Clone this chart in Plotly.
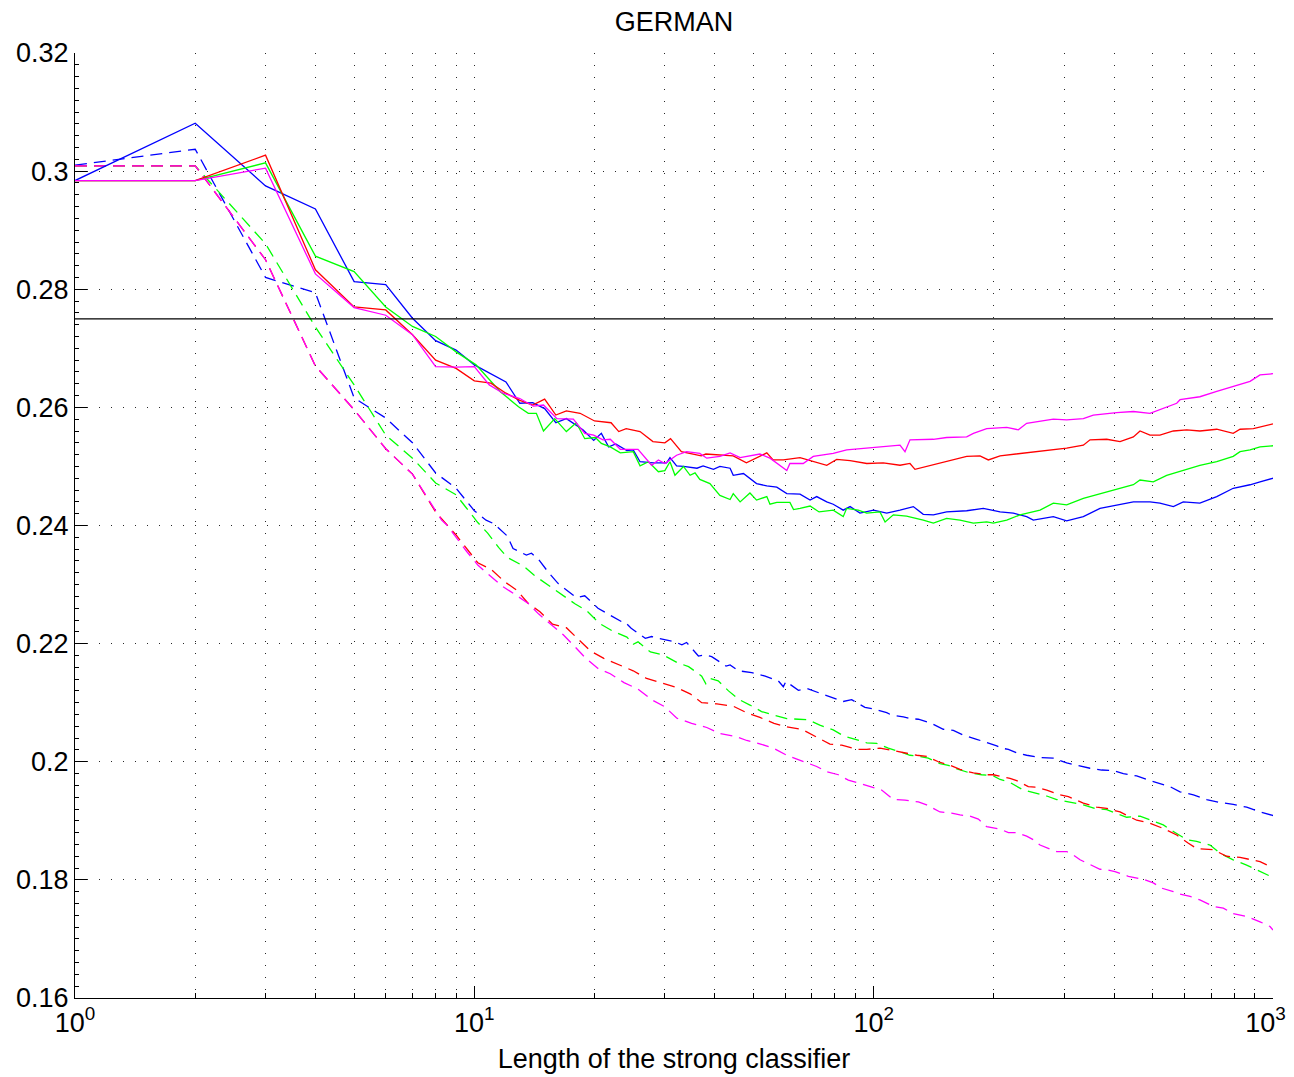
import plotly.graph_objects as go

# test error vs. number of weak learners (solid) and training error (dashed)
blue_x = [1, 2, 3, 4, 5, 6, 7, 8, 9, 10, 12, 13, 14, 15, 16, 17, 18.7, 19.9, 20.8, 21.7, 22.6, 24.1, 25, 26, 28.1,
          30.3, 30.9, 32.1, 33.4, 36.1, 37.4, 39.7, 41.2, 43.7, 44.5, 47.2, 50.9, 54, 57.2, 60.6, 65.4, 69.3, 72,
          76.3, 79.2, 83.9, 87.3, 92.4, 99.9, 107.8, 116.4, 125.7, 133.1, 141.1, 152.3, 171, 188.2, 207.3, 223.7,
          241.6, 251.1, 281.8, 304.3, 335, 368.8, 414, 447, 492, 521, 563, 596, 656, 723, 795, 876, 928, 1000]
blue_y = [0.2984, 0.3081, 0.2975, 0.2936, 0.2813, 0.2808, 0.2751, 0.2713, 0.2697, 0.2672, 0.2643, 0.2607, 0.2608,
          0.2598, 0.2574, 0.2581, 0.2562, 0.2544, 0.2556, 0.2533, 0.2538, 0.2527, 0.2528, 0.2508, 0.2506, 0.2506,
          0.2515, 0.2501, 0.2500, 0.2497, 0.2501, 0.2495, 0.2500, 0.2497, 0.2485, 0.2488, 0.2471, 0.2467, 0.2465,
          0.2454, 0.2453, 0.2443, 0.2449, 0.2440, 0.2436, 0.2426, 0.2432, 0.2421, 0.2426, 0.2421, 0.2426, 0.2432,
          0.2419, 0.2418, 0.2423, 0.2425, 0.2429, 0.2423, 0.2421, 0.2415, 0.2409, 0.2415, 0.2408, 0.2415, 0.2429,
          0.2435, 0.2440, 0.2440, 0.2438, 0.2432, 0.2440, 0.2438, 0.2449, 0.2463, 0.2469, 0.2474, 0.2480]

red_x = [1, 2, 3, 4, 5, 6, 7, 8, 9, 10, 11, 12, 13, 14, 15, 16, 17, 18.4, 20, 22, 23, 24, 26, 28, 30, 31, 33, 37,
         38, 44.5, 48, 54, 56, 59.4, 65.4, 70.6, 76.3, 80.8, 87.3, 96.1, 105.7, 116.4, 123.3, 126.9, 135.7, 146.6,
         161.4, 171, 184.6, 193.7, 207.3, 228.1, 251.1, 276.4, 304.3, 335, 348.2, 383.3, 414, 447, 464.5, 492, 521,
         563, 608, 656, 723, 795, 827, 893, 1000]
red_y = [0.2984, 0.2984, 0.3027, 0.2833, 0.2770, 0.2765, 0.2723, 0.2680, 0.2666, 0.2645, 0.2641, 0.2624, 0.2612,
         0.2604, 0.2614, 0.2587, 0.2594, 0.2590, 0.2577, 0.2574, 0.2559, 0.2564, 0.2559, 0.2542, 0.2540, 0.2547,
         0.2525, 0.2518, 0.2521, 0.2518, 0.2506, 0.2523, 0.2511, 0.2511, 0.2515, 0.2508, 0.2502, 0.2512, 0.2510,
         0.2505, 0.2506, 0.2502, 0.2505, 0.2495, 0.2500, 0.2505, 0.2512, 0.2517, 0.2518, 0.2511, 0.2518, 0.2521,
         0.2525, 0.2528, 0.2531, 0.2536, 0.2545, 0.2546, 0.2542, 0.2550, 0.2560, 0.2553, 0.2553, 0.2560, 0.2562,
         0.2560, 0.2563, 0.2556, 0.2563, 0.2564, 0.2572]

green_x = [1, 2, 3, 4, 5, 6, 7, 8, 9, 10.1, 11.6, 12.9, 13.65, 14.3, 14.9, 15.9, 17, 18, 18.9, 20.1, 20.8, 21.9,
           23.2, 25, 26, 27.3, 28.9, 30, 30.9, 31.8, 33.4, 34.7, 35.7, 36.7, 38.9, 41.2, 43.7, 44.5, 46.3, 49, 50.9,
           54, 55, 57.2, 61.7, 63, 65.4, 69.3, 73, 79.2, 83.9, 85.6, 91.5, 96.1, 103.7, 106.8, 112, 120.9, 133.1,
           141.1, 152.3, 164.5, 177.7, 191.9, 199.4, 215.4, 232.5, 241.6, 261, 281.8, 304.3, 335, 368.8, 406, 447,
           464.5, 501.5, 541.7, 596, 656, 723, 795, 827, 876, 928, 1000]
green_y = [0.2984, 0.2984, 0.3014, 0.2856, 0.2830, 0.2770, 0.2737, 0.2720, 0.2694, 0.2672, 0.2627, 0.2601, 0.2590,
           0.2590, 0.2560, 0.2581, 0.2559, 0.2574, 0.2547, 0.2549, 0.2539, 0.2533, 0.2523, 0.2525, 0.2501, 0.2508,
           0.2491, 0.2493, 0.2508, 0.2485, 0.2500, 0.2485, 0.2489, 0.2478, 0.2471, 0.2451, 0.2444, 0.2454, 0.2440,
           0.2455, 0.2443, 0.2449, 0.2436, 0.2439, 0.2439, 0.2427, 0.2429, 0.2433, 0.2423, 0.2426, 0.2415, 0.2429,
           0.2426, 0.2421, 0.2423, 0.2406, 0.2418, 0.2416, 0.2409, 0.2404, 0.2412, 0.2409, 0.2404, 0.2406, 0.2404,
           0.2409, 0.2418, 0.2421, 0.2426, 0.2438, 0.2435, 0.2446, 0.2454, 0.2461, 0.2469, 0.2477, 0.2474, 0.2485,
           0.2494, 0.2502, 0.2508, 0.2517, 0.2525, 0.2528, 0.2533, 0.2535]

magenta_x = [1, 2, 3, 4, 5, 6, 7, 8, 9, 10, 10.9, 11.8, 13, 14.05, 14.9, 16.1, 17.7, 18.9, 19.9, 21, 21.9, 23.2,
             25.7, 27.8, 28.9, 30, 32.1, 34, 36.7, 38.2, 41.2, 43.7, 46.3, 48.5, 51.9, 55, 60.6, 61.7, 66.6, 70.6,
             79.2, 85.6, 96.1, 105.7, 116.4, 119.8, 123.3, 141.1, 152.3, 171, 177.7, 191.9, 215.4, 230.3, 241.6,
             281.8, 304.3, 335, 354.9, 406, 447, 492, 521, 574, 585, 656, 723, 795, 876, 928, 1000]
magenta_y = [0.2984, 0.2984, 0.3005, 0.2826, 0.2769, 0.2756, 0.2723, 0.2669, 0.2668, 0.2669, 0.2638, 0.2624, 0.2615,
             0.2602, 0.2604, 0.2581, 0.2580, 0.2556, 0.2553, 0.2545, 0.2546, 0.2529, 0.2529, 0.2502, 0.2511, 0.2505,
             0.2519, 0.2525, 0.2522, 0.2514, 0.2517, 0.2523, 0.2515, 0.2517, 0.2521, 0.2514, 0.2493, 0.2505, 0.2505,
             0.2517, 0.2522, 0.2528, 0.2531, 0.2533, 0.2536, 0.2525, 0.2545, 0.2546, 0.2549, 0.2550, 0.2556, 0.2564,
             0.2566, 0.2562, 0.2573, 0.2580, 0.2579, 0.2581, 0.2587, 0.2591, 0.2593, 0.2590, 0.2596, 0.2607, 0.2613,
             0.2618, 0.2627, 0.2635, 0.2644, 0.2655, 0.2657]

blue_dx = [1, 2, 3, 4, 5, 6, 7, 8, 9, 10, 10.7, 11.2, 12.1, 12.5, 13.5, 13.9, 14.5, 15.4, 16.2, 17.7, 18, 18.9,
           20.4, 21.9, 23.4, 23.8, 24.7, 26.8, 27.8, 28.9, 31.8, 33.1, 34, 36.4, 37.8, 39.3, 42.7, 43.7, 45.8, 49.5,
           53.5, 57.7, 59.4, 60.3, 64.8, 68, 73.3, 78.5, 83.9, 88.1, 95.1, 100.8, 107.8, 110.9, 118.7, 123.3, 129.4,
           138.4, 149.4, 158.3, 167.7, 181.1, 193.7, 203.3, 209.2, 217.4, 228.1, 241.6, 261, 281.8, 304.3, 322.4,
           348.2, 372.4, 398.3, 421.9, 455.7, 482.6, 521, 552, 585, 632, 682, 737, 795, 859, 928, 1000]
blue_dy = [0.3010, 0.3037, 0.2820, 0.2794, 0.2616, 0.2582, 0.2540, 0.2489, 0.2463, 0.2425, 0.2409, 0.2403, 0.2382,
           0.2361, 0.2350, 0.2353, 0.2342, 0.2319, 0.2302, 0.2282, 0.2278, 0.2281, 0.2260, 0.2248, 0.2237, 0.2237,
           0.2226, 0.2209, 0.2212, 0.2209, 0.2203, 0.2198, 0.2202, 0.2179, 0.2181, 0.2178, 0.2162, 0.2164, 0.2154,
           0.2151, 0.2145, 0.2137, 0.2127, 0.2136, 0.2121, 0.2124, 0.2116, 0.2110, 0.2102, 0.2105, 0.2092, 0.2089,
           0.2083, 0.2079, 0.2076, 0.2073, 0.2072, 0.2066, 0.2055, 0.2053, 0.2045, 0.2038, 0.2032, 0.2027, 0.2023,
           0.2021, 0.2015, 0.2011, 0.2007, 0.2006, 0.1998, 0.1994, 0.1989, 0.1986, 0.1985, 0.1980, 0.1976, 0.1970,
           0.1963, 0.1958, 0.1949, 0.1944, 0.1936, 0.1931, 0.1928, 0.1923, 0.1915, 0.1909]

red_dx = [1, 2, 3, 4, 5, 6, 7, 8, 9, 10.2, 11.05, 11.9, 12.8, 13.65, 14.6, 15.7, 17, 18.2, 19.5, 21.1, 22.9, 25,
          27, 29.6, 32, 34.7, 37.1, 40.5, 44.5, 48.1, 51.9, 56.3, 60.6, 66, 70.6, 77.7, 83.2, 90.7, 96.1, 103.7,
          109.9, 118.7, 128.2, 135.7, 145.2, 155.3, 164.5, 177.7, 191.9, 199.4, 219.5, 228.1, 243.9, 253.5, 271.3,
          292.9, 307.3, 335, 361.8, 383.3, 414, 455.7, 492, 531.2, 574, 614, 644, 709, 765.6, 827, 893, 928, 1000]
red_dy = [0.3009, 0.3009, 0.2850, 0.2670, 0.2596, 0.2530, 0.2487, 0.2423, 0.2384, 0.2337, 0.2325, 0.2305, 0.2290,
          0.2268, 0.2254, 0.2233, 0.2227, 0.2207, 0.2188, 0.2175, 0.2165, 0.2154, 0.2141, 0.2133, 0.2126, 0.2115,
          0.2100, 0.2098, 0.2094, 0.2083, 0.2075, 0.2065, 0.2059, 0.2055, 0.2045, 0.2030, 0.2028, 0.2021, 0.2021,
          0.2023, 0.2020, 0.2015, 0.2011, 0.2009, 0.2000, 0.1994, 0.1987, 0.1981, 0.1978, 0.1978, 0.1972, 0.1968,
          0.1958, 0.1957, 0.1952, 0.1944, 0.1941, 0.1930, 0.1923, 0.1921, 0.1915, 0.1901, 0.1896, 0.1887, 0.1876,
          0.1862, 0.1853, 0.1851, 0.1840, 0.1838, 0.1834, 0.1831, 0.1820]

green_dx = [1, 2, 3, 4, 5, 6, 7, 8, 9, 10.2, 10.8, 11.5, 12.1, 13.3, 14.1, 15.3, 16.4, 17.9, 19.1, 20.6, 22.1, 24.1,
            25, 25.7, 27.6, 29.7, 32.2, 34.4, 37.1, 38, 38.9, 40.8, 43.3, 46.1, 49, 52.4, 56.1, 60.6, 64.8, 68.6,
            73.3, 79.2, 83.9, 90.7, 96.1, 101.8, 108.8, 116.4, 123.3, 130.6, 137, 146.6, 153.8, 163, 174.3, 186.4,
            199.4, 207.3, 219.5, 237, 256, 271.3, 287.3, 310.2, 335, 358.3, 383.3, 406, 430.2, 464.5, 501.5, 531.2,
            563, 608, 644, 695.6, 737, 795, 859, 928, 1000]
green_dy = [0.3009, 0.3009, 0.2877, 0.2736, 0.2638, 0.2553, 0.2514, 0.2472, 0.2452, 0.2405, 0.2387, 0.2363, 0.2346,
            0.2331, 0.2316, 0.2299, 0.2286, 0.2267, 0.2256, 0.2234, 0.2222, 0.2211, 0.2199, 0.2203, 0.2186, 0.2181,
            0.2168, 0.2161, 0.2145, 0.2132, 0.2141, 0.2137, 0.2120, 0.2105, 0.2096, 0.2085, 0.2079, 0.2073, 0.2072,
            0.2071, 0.2062, 0.2054, 0.2044, 0.2037, 0.2032, 0.2031, 0.2023, 0.2017, 0.2011, 0.2009, 0.2006, 0.1997,
            0.1994, 0.1987, 0.1981, 0.1978, 0.1976, 0.1970, 0.1965, 0.1952, 0.1947, 0.1942, 0.1936, 0.1932, 0.1927,
            0.1921, 0.1919, 0.1912, 0.1906, 0.1908, 0.1899, 0.1893, 0.1882, 0.1868, 0.1865, 0.1859, 0.1845, 0.1834,
            0.1825, 0.1814, 0.1804]

magenta_dx = [1, 2, 3, 4, 5, 6, 7, 8.28, 8.53, 9.03, 9.57, 10.2, 10.9, 11.7, 12.6, 13.65, 14.5, 15.6, 16.7, 17.9,
              18.9, 20.4, 21.9, 23.7, 25.7, 27.8, 30, 32.1, 35, 38.2, 41.2, 45, 48.1, 52.1, 56.1, 60.6, 65.4, 72,
              76.3, 81.6, 86.4, 93.3, 99.9, 104.7, 112, 119.8, 129.4, 135.7, 146.6, 156.8, 164.5, 174.3, 182.9, 191.9,
              207.3, 217.4, 228.1, 241.6, 251.1, 261, 276.4, 287.3, 304.3, 313.3, 328.7, 354.9, 368.8, 383.3, 402.2,
              434.3, 473.5, 501.5, 526.2, 563, 585, 620, 656, 709, 751, 795, 859, 928, 983, 1000]
magenta_dy = [0.3009, 0.3009, 0.2850, 0.2670, 0.2596, 0.2530, 0.2487, 0.2409, 0.2401, 0.2378, 0.2356, 0.2333,
              0.2316, 0.2298, 0.2284, 0.2268, 0.2250, 0.2232, 0.2215, 0.2194, 0.2177, 0.2158, 0.2149, 0.2134, 0.2123,
              0.2105, 0.2093, 0.2074, 0.2065, 0.2058, 0.2048, 0.2043, 0.2036, 0.2030, 0.2023, 0.2011, 0.2003, 0.1992,
              0.1983, 0.1978, 0.1969, 0.1962, 0.1955, 0.1952, 0.1936, 0.1935, 0.1932, 0.1927, 0.1915, 0.1913, 0.1910,
              0.1908, 0.1903, 0.1890, 0.1886, 0.1880, 0.1880, 0.1874, 0.1868, 0.1859, 0.1852, 0.1848, 0.1848, 0.1844,
              0.1834, 0.1824, 0.1818, 0.1817, 0.1814, 0.1806, 0.1801, 0.1795, 0.1786, 0.1780, 0.1776, 0.1772, 0.1766,
              0.1755, 0.1752, 0.1743, 0.1738, 0.1729, 0.1721, 0.1715]

baseline_x = [1, 1000]
baseline_y = [0.275, 0.275]

xtick_vals = [1, 10, 100, 1000]
# last label nudged left (trailing spaces) so it stays inside the page like the original
xtick_text = ['10<sup>0</sup>', '10<sup>1</sup>', '10<sup>2</sup>', '10<sup>3</sup>&nbsp;&nbsp;']
xminor_vals = [m * d for d in (1, 10, 100) for m in range(2, 10)]

BLUE = 'rgb(0,0,255)'
RED = 'rgb(255,0,0)'
GREEN = 'rgb(0,255,0)'
MAGENTA = 'rgb(255,0,255)'
DASH = '12px,7px'
GRID_DASH = '1px,11px'
FONT_SIZE = 27

# page body has an 8px margin, so the figure is sized to sit inside the window
W, H = 1286, 1069

fig = go.Figure()

# dashed (training) curves first, solid ones on top
for xs, ys, col in [(blue_dx, blue_dy, BLUE), (green_dx, green_dy, GREEN),
                    (red_dx, red_dy, RED), (magenta_dx, magenta_dy, MAGENTA)]:
    fig.add_trace(go.Scatter(x=xs, y=ys, mode='lines',
                             line=dict(color=col, width=1.3, dash=DASH)))

for xs, ys, col in [(blue_x, blue_y, BLUE), (green_x, green_y, GREEN),
                    (red_x, red_y, RED), (magenta_x, magenta_y, MAGENTA)]:
    fig.add_trace(go.Scatter(x=xs, y=ys, mode='lines',
                             line=dict(color=col, width=1.3)))

fig.add_trace(go.Scatter(x=baseline_x, y=baseline_y, mode='lines',
                         line=dict(color='black', width=1.2)))

fig.update_layout(
    width=W, height=H,
    margin=dict(l=67, r=21, t=45, b=79),
    paper_bgcolor='white', plot_bgcolor='white',
    showlegend=False,
    font=dict(family='Liberation Sans, Arial, sans-serif', size=FONT_SIZE, color='black'),
    title=dict(text='GERMAN', x=0.5, xref='paper', xanchor='center',
               y=1 - 14 / H, yanchor='middle', font=dict(size=FONT_SIZE)),
)

fig.update_xaxes(
    type='log', range=[0, 3], automargin=False,
    tickmode='array', tickvals=xtick_vals, ticktext=xtick_text,
    tickfont=dict(size=FONT_SIZE), ticklabeloverflow='allow',
    ticks='inside', ticklen=12, tickcolor='black', tickwidth=1,
    showline=True, linecolor='black', linewidth=1.2, mirror=False,
    showgrid=True, gridcolor='rgb(40,40,40)', gridwidth=1, griddash=GRID_DASH,
    zeroline=False,
    minor=dict(tickmode='array', tickvals=xminor_vals, ticks='inside', ticklen=5,
               tickcolor='black', showgrid=True, gridcolor='rgb(40,40,40)',
               griddash=GRID_DASH, gridwidth=1),
    title=dict(text='Length of the strong classifier', standoff=12, font=dict(size=FONT_SIZE)),
)

fig.update_yaxes(
    range=[0.16, 0.32], tick0=0.16, dtick=0.02, automargin=False,
    tickfont=dict(size=FONT_SIZE), ticklabeloverflow='allow',
    ticks='inside', ticklen=12, tickcolor='black', tickwidth=1,
    showline=True, linecolor='black', linewidth=1.2, mirror=False,
    showgrid=True, gridcolor='rgb(40,40,40)', gridwidth=1, griddash=GRID_DASH,
    zeroline=False,
    minor=dict(dtick=0.002, ticks='inside', ticklen=4, tickcolor='black', showgrid=False),
)

fig.write_html('out.html')
